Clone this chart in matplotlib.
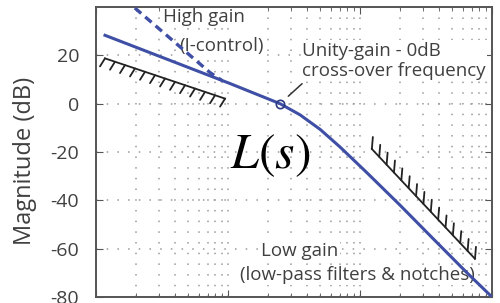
import numpy as np
import matplotlib
matplotlib.use('Agg')
import matplotlib.pyplot as plt

plt.rcParams['font.family'] = ['Open Sans', 'DejaVu Sans']
plt.rcParams['mathtext.fontset'] = 'stix'

# loop gain magnitude L(s)
freq = [1.17, 10.4, 24.8, 35.1, 49.8, 70.5, 113, 201, 357, 647, 1000]
mag_db = [28.3, 8.3, 0.0, -4.6, -10.6, -17.9, -28.6, -42.0, -55.8, -70.0, -80.0]

# high gain (I-control) dashed branch
hi_freq = [1.97, 7.3, 9.0]
hi_db = [39.6, 12.9, 9.6]

# bounds (hatched)
low_bound_f = [1.17, 9.5]
low_bound_db = [18.75, 2.1]
high_bound_f = [123, 743]
high_bound_db = [-18.75, -64.2]

cross_f = 24.8
cross_db = 0.0

yticks = [-80, -60, -40, -20, 0, 20]

BLUE = '#3f4fa6'
TXT = '#404040'

fig = plt.figure(figsize=(5, 3.03), dpi=100)
ax = fig.add_axes([0.192, 0.0198, 0.792, 0.957])
ax.set_xscale('log')
ax.set_xlim(1, 1000)
ax.set_ylim(-80, 40)
ax.set_yticks(yticks)
ax.set_yticklabels([str(v) for v in yticks])
ax.xaxis.set_major_formatter(plt.NullFormatter())
ax.xaxis.set_minor_formatter(plt.NullFormatter())
ax.tick_params(which='both', direction='in', top=True, right=True,
               colors='#555555', labelcolor=TXT)
ax.tick_params(axis='y', which='major', length=5, pad=12, labelsize=14)
ax.tick_params(axis='x', which='major', length=5)
ax.tick_params(axis='x', which='minor', length=3)
for s in ax.spines.values():
    s.set_color('#555555')
    s.set_linewidth(1.4)

ax.grid(True, which='major', axis='both', color='#9a9a9a', linestyle=(0, (1, 6)), linewidth=1.1)
ax.grid(True, which='minor', axis='x', color='#9a9a9a', linestyle=(0, (1, 6)), linewidth=1.1)
ax.set_axisbelow(True)

ax.set_ylabel('Magnitude (dB)', fontsize=17, color=TXT)
ax.yaxis.set_label_coords(-0.15, 0.47)

ax.plot(freq, mag_db, color=BLUE, lw=2.2, zorder=4)
ax.plot(hi_freq, hi_db, color=BLUE, lw=2.4, ls=(0, (2.5, 1.6)), zorder=4)
ax.plot([cross_f], [cross_db], 'o', ms=6, mfc='none', mec='#2b3a80', mew=1.2, zorder=5)


def draw_hatch(ax, f, db, n, dx, dy):
    # boundary line plus short ticks, offsets in pixels
    ax.plot(f, db, color='#222222', lw=1.3, zorder=3)
    p = ax.transData.transform(np.column_stack([f, db]))
    inv = ax.transData.inverted()
    for t in np.linspace(0, 1, n):
        a = p[0] + t * (p[1] - p[0])
        b = a + np.array([dx, dy])
        seg = inv.transform(np.vstack([a, b]))
        ax.plot(seg[:, 0], seg[:, 1], color='#222222', lw=1.3, zorder=3,
                solid_capstyle='round')


draw_hatch(ax, low_bound_f, low_bound_db, 13, -5, -8)
draw_hatch(ax, high_bound_f, high_bound_db, 15, 1, 12)

box = dict(facecolor='white', edgecolor='none', pad=1)
fs = 13.5
ax.text(0.273, 0.966, 'High gain', transform=ax.transAxes, ha='center', va='center',
        fontsize=fs, color=TXT, bbox=box, zorder=2)
ax.text(0.316, 0.866, '(I-control)', transform=ax.transAxes, ha='center', va='center',
        fontsize=fs, color=TXT, bbox=box, zorder=2)
ax.text(0.52, 0.815, 'Unity-gain - 0dB\ncross-over frequency', transform=ax.transAxes,
        ha='left', va='center', fontsize=fs, color=TXT, linespacing=1.15, bbox=box, zorder=2)
ax.text(0.515, 0.159, 'Low gain', transform=ax.transAxes, ha='center', va='center',
        fontsize=fs, color=TXT, bbox=box, zorder=2)
ax.text(0.66, 0.076, '(low-pass filters & notches)', transform=ax.transAxes,
        ha='center', va='center', fontsize=fs, color=TXT, bbox=box, zorder=2)

ax.annotate('', xy=(cross_f, cross_db), xycoords='data',
            xytext=(22, 20), textcoords='offset pixels',
            arrowprops=dict(arrowstyle='-', color='#333333', lw=1.1,
                            shrinkA=0, shrinkB=8))

ax.text(0.338, 0.445, r'$L(s)$', transform=ax.transAxes, ha='left', va='baseline',
        fontsize=36, color='black', zorder=6)

fig.savefig('out.png', dpi=100)
